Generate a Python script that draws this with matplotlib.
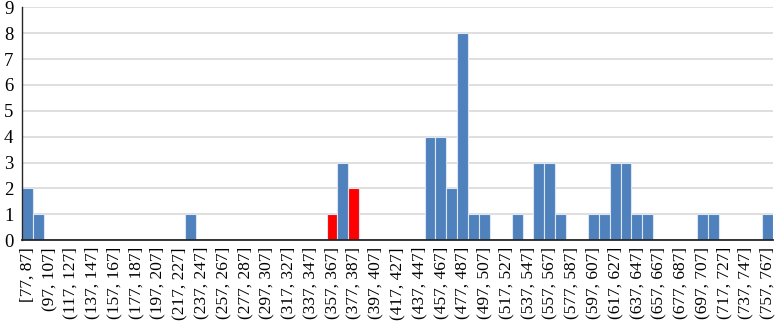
import matplotlib
matplotlib.use("Agg")
import matplotlib.pyplot as plt
import numpy as np

plt.rcParams['font.family'] = ['Liberation Serif', 'DejaVu Serif']

# bin edges: [77, 87], (87, 97], ... (757, 767]
bin_start = 77
bin_width = 10
counts = [2, 1, 0, 0, 0, 0, 0, 0, 0, 0,
          0, 0, 0, 0, 0, 1, 0, 0, 0, 0,
          0, 0, 0, 0, 0, 0, 0, 0, 1, 3,
          2, 0, 0, 0, 0, 0, 0, 4, 4, 2,
          8, 1, 1, 0, 0, 1, 0, 3, 3, 1,
          0, 0, 1, 1, 3, 3, 1, 1, 0, 0,
          0, 0, 1, 1, 0, 0, 0, 0, 1]
red_bins = [28, 30]

lows = [bin_start + i * bin_width for i in range(len(counts))]
labels = []
for i, lo in enumerate(lows):
    if i == 0:
        labels.append("[%d, %d]" % (lo, lo + bin_width))
    else:
        labels.append("(%d, %d]" % (lo, lo + bin_width))

colors = ['#FF0000' if i in red_bins else '#4F81BD' for i in range(len(counts))]
lws = [0.8 if c > 0 else 0 for c in counts]

fig = plt.figure(figsize=(7.82, 3.33), dpi=100)
ax = fig.add_axes([0.0278, 0.279, 0.9607, 0.699])
x = np.arange(len(counts))
ax.bar(x, counts, width=1.0, color=colors, edgecolor='#DCE6F2', linewidth=lws, zorder=3)

ax.set_xlim(-0.5, len(counts) - 0.5)
ax.set_ylim(0, 9)
ax.set_yticks(range(0, 10))
ax.yaxis.grid(True, color='#D9D9D9', linewidth=1.2, zorder=0)
ax.set_axisbelow(True)

ax.set_xticks(x[::2])
ax.set_xticklabels(labels[::2], rotation=90, fontsize=12.5)
ax.tick_params(axis='x', length=0, pad=5)
ax.tick_params(axis='y', length=0, pad=6, labelsize=13.5)

for s in ['top', 'right']:
    ax.spines[s].set_visible(False)
for s in ['left', 'bottom']:
    ax.spines[s].set_color('#262626')
    ax.spines[s].set_zorder(5)
ax.spines['left'].set_linewidth(1.0)
ax.spines['bottom'].set_linewidth(1.3)

plt.savefig("out.png", dpi=100)
